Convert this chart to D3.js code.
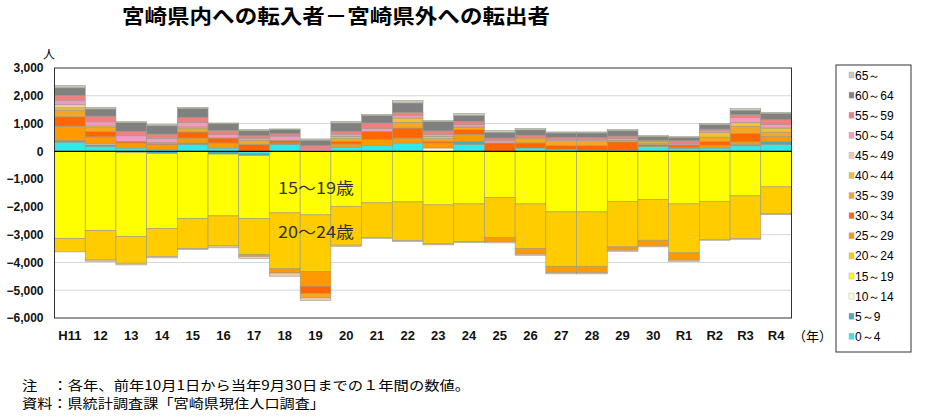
<!DOCTYPE html>
<html><head><meta charset="utf-8">
<script src="https://cdn.jsdelivr.net/npm/d3@7"></script>
<style>
body{margin:0;background:#fff;}
svg{display:block;font-family:"Liberation Sans",Arial,sans-serif;}
</style>
</head><body>
<svg id="c" width="932" height="419"></svg>
<script>
const years=["H11","12","13","14","15","16","17","18","19","20","21","22","23","24","25","26","27","28","29","30","R1","R2","R3","R4"];
const ageKeys=["0～4","5～9","10～14","15～19","20～24","25～29","30～34","35～39","40～44","45～49","50～54","55～59","60～64","65～"];
const yTicks=[3000,2000,1000,0,-1000,-2000,-3000,-4000,-5000,-6000];

const a0_4  =[330,180,120,60,240,120,-80,240,0,156,204,300,0,240,0,120,60,40,40,180,100,120,200,240];
const a5_9  =[60,60,0,-80,60,-100,-70,60,0,0,0,0,0,120,0,0,0,0,0,0,30,0,40,120];
const a10_14=[0,40,-40,0,0,0,0,0,0,0,0,0,120,0,0,0,0,0,0,0,0,0,0,0];
const a15_19=[-3140,-2853,-3028,-2700,-2421,-2225,-2270,-2216,-2288,-1978,-1857,-1821,-1929,-1893,-1665,-1893,-2180,-2180,-1798,-1727,-1893,-1798,-1604,-1281];
const a20_24=[-480,-1060,-960,-1000,-1080,-1080,-1300,-2014,-2039,-1400,-1240,-1390,-1400,-1360,-1439,-1607,-1957,-1957,-1642,-1474,-1763,-1370,-1530,-971];
const a25_29=[516,240,180,180,180,180,-60,-150,-529,110,216,180,180,240,-150,-200,-230,-230,-120,-200,-260,100,100,180];
const a30_34=[336,190,60,40,216,180,250,100,-263,94,300,360,60,180,300,180,150,170,300,60,100,140,300,0];
const a35_39=[240,144,0,0,120,0,150,0,-154,100,0,204,100,96,0,180,180,180,60,60,0,150,250,150];
const a40_44=[84,60,0,40,60,0,0,0,0,80,0,156,80,0,0,0,0,0,0,50,0,170,150,150];
const a45_49=[120,-44,-60,-55,-35,-70,-70,-116,-97,-40,-32,-37,-38,-32,-43,-41,-45,-45,-37,-39,-41,-33,-31,-26];
const a50_54=[156,150,200,150,168,120,60,150,80,80,100,100,60,84,80,0,50,50,60,0,40,60,180,120];
const a55_59=[168,204,160,150,180,156,100,80,120,100,200,104,136,120,100,100,60,60,90,50,110,60,100,180];
const a60_64=[276,255,310,300,312,240,180,150,200,300,264,336,330,204,204,190,160,160,190,130,120,156,150,216];
const a65   =[84,60,38,40,47,26,40,26,46,59,47,84,38,72,61,47,38,38,40,35,29,50,66,48];

const colors=["#33E8E8","#4FA8B4","#FFFFCC","#FFFF00","#FFCC00","#FF9900","#FF6600","#F5A623","#F2C12E","#F6C8A8","#F29AC2","#F08080","#808080","#C8C8BC"];

const seriesValues=[a0_4,a5_9,a10_14,a15_19,a20_24,a25_29,a30_34,a35_39,a40_44,a45_49,a50_54,a55_59,a60_64,a65];
const table=years.map((yr,i)=>{const o={year:yr};ageKeys.forEach((k,j)=>o[k]=seriesValues[j][i]);return o;});
const series=d3.stack().keys(ageKeys).offset(d3.stackOffsetDiverging)(table);

const svg=d3.select("#c");
const m={l:54.5,r:791.5,t:68,b:318};
const x=d3.scaleBand().domain(years).range([m.l,m.r]).padding(0);
const y=d3.scaleLinear().domain([-6000,3000]).range([m.b,m.t]);

// gridlines
svg.append("g").selectAll("line").data(yTicks.filter(v=>v!==0&&v!==3000&&v!==-6000)).join("line")
  .attr("x1",m.l).attr("x2",m.r).attr("y1",d=>y(d)).attr("y2",d=>y(d))
  .attr("stroke","#d6d6d6").attr("stroke-width",1);

// bars
svg.append("g").selectAll("g").data(series).join("g").attr("fill",(d,i)=>colors[i])
  .selectAll("rect").data(d=>d.filter(p=>p[1]!==p[0])).join("rect")
  .attr("x",d=>x(d.data.year)).attr("width",x.bandwidth())
  .attr("y",d=>y(Math.max(d[0],d[1]))).attr("height",d=>Math.abs(y(d[0])-y(d[1])))
  .attr("stroke","#9a9a8a").attr("stroke-width",0.6);

// plot border
svg.append("rect").attr("x",m.l).attr("y",m.t).attr("width",m.r-m.l).attr("height",m.b-m.t)
  .attr("fill","none").attr("stroke","#333").attr("stroke-width",1);
svg.append("line").attr("x1",m.l).attr("x2",m.r).attr("y1",y(0)).attr("y2",y(0)).attr("stroke","#000").attr("stroke-width",1.2);

// y axis
const yAxis=svg.append("g").attr("transform",`translate(${m.l},0)`)
  .call(d3.axisLeft(y).tickValues(yTicks).tickFormat(d3.format(",")).tickSize(0).tickPadding(11));
yAxis.select(".domain").remove();
yAxis.selectAll("text").attr("font-size",12).attr("font-weight","bold").attr("fill","#111").attr("font-family","'Liberation Sans',Arial,sans-serif");

// x axis
const xAxis=svg.append("g").attr("transform",`translate(0,${m.b})`)
  .call(d3.axisBottom(x).tickSize(0).tickPadding(13));
xAxis.select(".domain").remove();
xAxis.selectAll("text").attr("font-size",13).attr("font-weight","bold").attr("fill","#111").attr("font-family","'Liberation Sans',Arial,sans-serif");

// unit labels
svg.append("text").attr("x",49).attr("y",59).attr("text-anchor","middle").attr("font-size",12)
  .attr("font-family","'Noto Sans CJK JP',sans-serif").text("人");
svg.append("text").attr("x",832).attr("y",341).attr("text-anchor","end").attr("font-size",13)
  .attr("font-family","'Noto Sans CJK JP',sans-serif").text("（年）");

// in-chart labels
svg.append("text").attr("x",278).attr("y",194).attr("font-size",16).attr("fill","#333")
  .attr("font-family","'Noto Sans CJK JP',sans-serif").attr("textLength",76).attr("lengthAdjust","spacingAndGlyphs").text("15～19歳");
svg.append("text").attr("x",278).attr("y",238).attr("font-size",16).attr("fill","#333")
  .attr("font-family","'Noto Sans CJK JP',sans-serif").attr("textLength",76).attr("lengthAdjust","spacingAndGlyphs").text("20～24歳");

// title
svg.append("text").attr("x",122).attr("y",24).attr("font-size",20).attr("font-weight","bold")
  .attr("font-family","'Noto Sans CJK JP',sans-serif").attr("textLength",428).attr("lengthAdjust","spacingAndGlyphs")
  .text("宮崎県内への転入者－宮崎県外への転出者");

// legend
const lg=svg.append("g");
lg.append("rect").attr("x",836).attr("y",65).attr("width",75).attr("height",287).attr("fill","#fff").attr("stroke","#333").attr("stroke-width",1);
const legendKeys=ageKeys.slice().reverse();
legendKeys.forEach((k,i)=>{
  const ci=ageKeys.indexOf(k);
  const yy=75+i*20.1;
  lg.append("rect").attr("x",849).attr("y",yy-3).attr("width",5).attr("height",6).attr("fill",colors[ci]).attr("stroke","#aaa").attr("stroke-width",0.4);
  lg.append("text").attr("x",855).attr("y",yy+4.5).attr("font-size",12).attr("fill","#000")
    .attr("font-family","'Liberation Sans',Arial,sans-serif").text(k);
});

// notes
svg.append("text").attr("x",22).attr("y",390).attr("font-size",13).attr("fill","#000")
  .attr("font-family","'Noto Sans CJK JP',sans-serif").attr("textLength",448).attr("lengthAdjust","spacingAndGlyphs")
  .text("注　：各年、前年10月1日から当年9月30日までの１年間の数値。");
svg.append("text").attr("x",22).attr("y",408).attr("font-size",13).attr("fill","#000")
  .attr("font-family","'Noto Sans CJK JP',sans-serif").attr("textLength",303).attr("lengthAdjust","spacingAndGlyphs")
  .text("資料：県統計調査課「宮崎県現住人口調査」");
</script>
</body></html>
